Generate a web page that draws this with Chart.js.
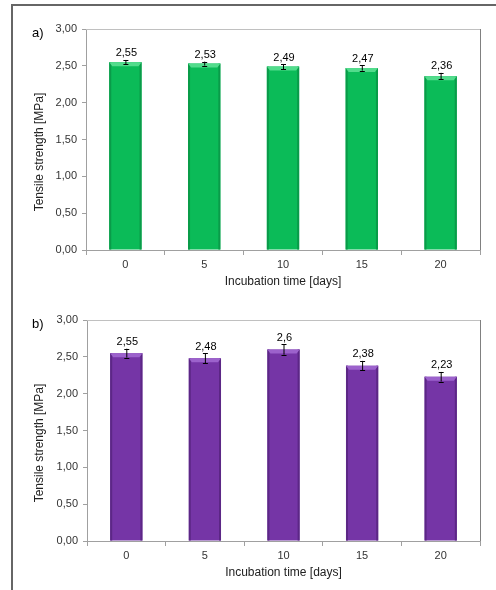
<!DOCTYPE html>
<html>
<head>
<meta charset="utf-8">
<script src="https://cdn.jsdelivr.net/npm/chart.js@4.4.1/dist/chart.umd.min.js"></script>
<style>
  html, body { margin: 0; padding: 0; background: #fff; }
  body { width: 496px; height: 590px; position: relative; overflow: hidden; }
  #frame { position: absolute; left: 11px; top: 4px; width: 700px; height: 700px;
           border-top: 2px solid #666; border-left: 2px solid #666; }
  .box { position: absolute; left: 0; width: 496px; height: 295px; }
</style>
</head>
<body>
<div id="frame"></div>
<div class="box" style="top:0px"><canvas id="chartA" width="496" height="295"></canvas></div>
<div class="box" style="top:295px"><canvas id="chartB" width="496" height="295"></canvas></div>
<script>
// incubation days (categories)
const days = ['0', '5', '10', '15', '20'];

// panel a) green
const strengthA = [2.55, 2.53, 2.49, 2.47, 2.36];
const errorA = [0.03, 0.027, 0.035, 0.035, 0.045];
const labelsA = ['2,55', '2,53', '2,49', '2,47', '2,36'];

// panel b) purple
const strengthB = [2.55, 2.48, 2.6, 2.38, 2.23];
const errorB = [0.06, 0.07, 0.07, 0.065, 0.065];
const labelsB = ['2,55', '2,48', '2,6', '2,38', '2,23'];

const yMin = 0, yMax = 3, yStep = 0.5;

const FONT = '"Liberation Sans", Arial, sans-serif';

// bevel, error bars, value labels, plot border and titles
const decoPlugin = {
    id: 'deco',
    afterDatasetsDraw(chart, args, opts) {
        const ctx = chart.ctx;
        const ys = chart.scales.y;
        const area = chart.chartArea;
        const meta = chart.getDatasetMeta(0);
        ctx.save();
        meta.data.forEach(function(bar, i) {
            const half = bar.width / 2;
            const l = bar.x - half, r = bar.x + half;
            // side shading
            ctx.fillStyle = opts.dark;
            ctx.fillRect(l, bar.y, 2, bar.base - bar.y);
            ctx.fillRect(r - 2, bar.y, 2, bar.base - bar.y);
            // top bevel
            ctx.fillStyle = opts.light;
            ctx.beginPath();
            ctx.moveTo(l, bar.y);
            ctx.lineTo(r, bar.y);
            ctx.lineTo(r - 3, bar.y + 4);
            ctx.lineTo(l + 3, bar.y + 4);
            ctx.closePath();
            ctx.fill();

            // error bar
            const v = opts.values[i], e = opts.errors[i];
            const yt = ys.getPixelForValue(v + e);
            const yb = ys.getPixelForValue(v - e);
            ctx.strokeStyle = '#000';
            ctx.lineWidth = 1;
            ctx.beginPath();
            ctx.moveTo(bar.x + 0.5, yt);
            ctx.lineTo(bar.x + 0.5, yb);
            ctx.moveTo(bar.x - 2, Math.round(yt) + 0.5);
            ctx.lineTo(bar.x + 3, Math.round(yt) + 0.5);
            ctx.moveTo(bar.x - 2, Math.round(yb) + 0.5);
            ctx.lineTo(bar.x + 3, Math.round(yb) + 0.5);
            ctx.stroke();

            // value label
            ctx.fillStyle = '#000';
            ctx.font = '11px ' + FONT;
            ctx.textAlign = 'center';
            ctx.textBaseline = 'bottom';
            ctx.fillText(opts.labels[i], bar.x + 1, yt - 1);
        });

        // plot area top and right border
        ctx.lineWidth = 1;
        ctx.strokeStyle = '#c0c0c0';
        ctx.beginPath();
        ctx.moveTo(area.left, area.top + 0.5);
        ctx.lineTo(area.right, area.top + 0.5);
        ctx.stroke();
        ctx.strokeStyle = '#808080';
        ctx.beginPath();
        ctx.moveTo(area.right + 0.5, area.top);
        ctx.lineTo(area.right + 0.5, area.bottom);
        ctx.stroke();

        // panel letter
        ctx.fillStyle = '#000';
        ctx.font = '13px ' + FONT;
        ctx.textAlign = 'left';
        ctx.textBaseline = 'middle';
        ctx.fillText(opts.letter, 32, area.top + 4);

        // y title
        ctx.fillStyle = '#222';
        ctx.font = '12px ' + FONT;
        ctx.save();
        ctx.translate(40, area.top + 123);
        ctx.rotate(-Math.PI / 2);
        ctx.textAlign = 'center';
        ctx.textBaseline = 'middle';
        ctx.fillText('Tensile strength [MPa]', 0, 0);
        ctx.restore();

        // x title
        ctx.textAlign = 'center';
        ctx.textBaseline = 'middle';
        ctx.fillText('Incubation time [days]', (area.left + area.right) / 2, area.bottom + 32);
        ctx.restore();
    }
};

function makeChart(id, values, errors, labels, color, light, dark, letter, top, left, bottomH) {
    const ctx = document.getElementById(id);
    return new Chart(ctx, {
        type: 'bar',
        data: {
            labels: days,
            datasets: [{
                data: values,
                backgroundColor: color,
                borderWidth: 0,
                barPercentage: 0.41,
                categoryPercentage: 1
            }]
        },
        options: {
            responsive: false,
            animation: false,
            layout: { padding: { top: top, right: 16, bottom: 0, left: 0 } },
            plugins: {
                legend: { display: false },
                tooltip: { enabled: false },
                deco: { values: values, errors: errors, labels: labels,
                        light: light, dark: dark, letter: letter }
            },
            scales: {
                x: {
                    afterFit: function(s) { s.height = bottomH; },
                    grid: { drawOnChartArea: false, tickLength: 5, color: '#a0a0a0', offset: true },
                    border: { color: '#a0a0a0' },
                    ticks: { color: '#333', font: { family: FONT, size: 11 }, padding: 3 }
                },
                y: {
                    min: yMin, max: yMax,
                    afterFit: function(s) { s.width = left; },
                    grid: { drawOnChartArea: false, tickLength: 4, color: '#a0a0a0' },
                    border: { color: '#a0a0a0' },
                    ticks: {
                        stepSize: yStep, color: '#333', padding: 5,
                        font: { family: FONT, size: 11 },
                        callback: function(v) { return v.toFixed(2).replace('.', ','); }
                    }
                }
            }
        },
        plugins: [decoPlugin]
    });
}

makeChart('chartA', strengthA, errorA, labelsA, '#0bbb58', '#52dc8c', '#0a9b49', 'a)', 29, 86, 45);
makeChart('chartB', strengthB, errorB, labelsB, '#7535a6', '#9c62cc', '#5c2786', 'b)', 25, 87, 49);
</script>
</body>
</html>
